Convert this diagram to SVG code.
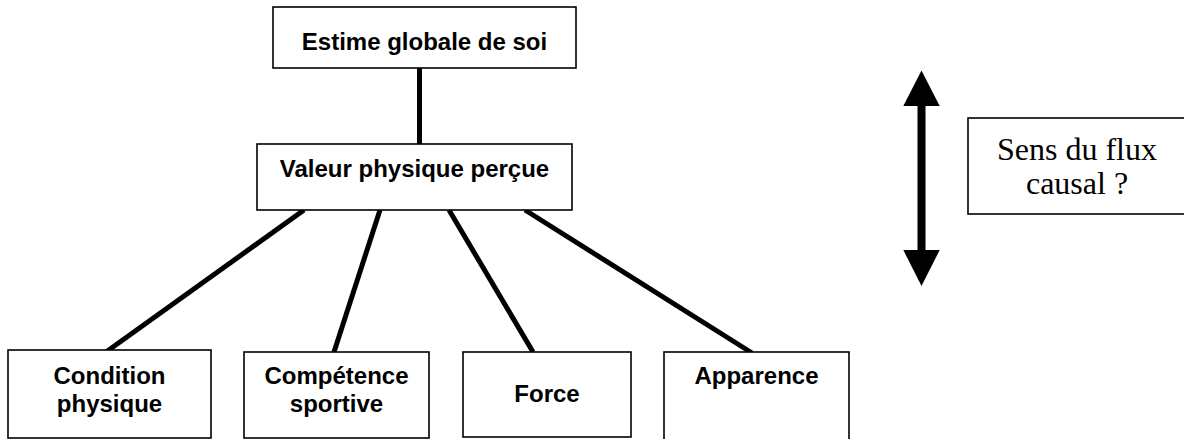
<svg xmlns="http://www.w3.org/2000/svg" width="1184" height="439" viewBox="0 0 1184 439">
<style>
.box{fill:#fff;stroke:#000;stroke-width:1.6}
.lbl{font-family:"Liberation Sans",Arial,sans-serif;font-weight:bold;font-size:24px;text-anchor:middle;fill:#000}
.note{font-family:"Liberation Serif","Times New Roman",serif;font-size:32px;text-anchor:middle;fill:#000}
.conn{stroke:#000;stroke-width:5;stroke-linecap:butt;fill:none}
</style>
<rect width="1184" height="439" fill="#fff"/>
<g id="connectors">
<line class="conn" x1="419.5" y1="68" x2="419.5" y2="144"/>
<line class="conn" x1="304" y1="210" x2="106" y2="352"/>
<line class="conn" x1="380" y1="210" x2="334" y2="352"/>
<line class="conn" x1="449" y1="210" x2="533" y2="352"/>
<line class="conn" x1="525" y1="210" x2="752" y2="353"/>
</g>
<g id="estime">
<rect class="box" x="273" y="7" width="303" height="61"/>
<text class="lbl" x="424.5" y="50">Estime globale de soi</text>
</g>
<g id="valeur">
<rect class="box" x="257" y="144" width="315" height="66"/>
<text class="lbl" x="414.5" y="177">Valeur physique perçue</text>
</g>
<g id="condition">
<rect class="box" x="8" y="350" width="203" height="88"/>
<text class="lbl" x="109.5" y="384">Condition</text>
<text class="lbl" x="109.5" y="412">physique</text>
</g>
<g id="competence">
<rect class="box" x="244" y="352" width="185" height="86"/>
<text class="lbl" x="336.5" y="384">Compétence</text>
<text class="lbl" x="336.5" y="412">sportive</text>
</g>
<g id="force">
<rect class="box" x="463" y="352" width="168" height="85"/>
<text class="lbl" x="547" y="402">Force</text>
</g>
<g id="apparence">
<rect class="box" x="664" y="352" width="185" height="92"/>
<text class="lbl" x="756.5" y="384">Apparence</text>
</g>
<g id="arrow">
<rect x="917.5" y="104" width="8" height="148" fill="#000"/>
<polygon points="921.5,70.5 903.3,106 939.7,106" fill="#000"/>
<polygon points="921.5,286 903.3,250 939.7,250" fill="#000"/>
</g>
<g id="sens">
<rect class="box" x="968" y="118" width="220" height="96"/>
<text class="note" x="1077" y="160">Sens du flux</text>
<text class="note" x="1077" y="194">causal ?</text>
</g>
</svg>
